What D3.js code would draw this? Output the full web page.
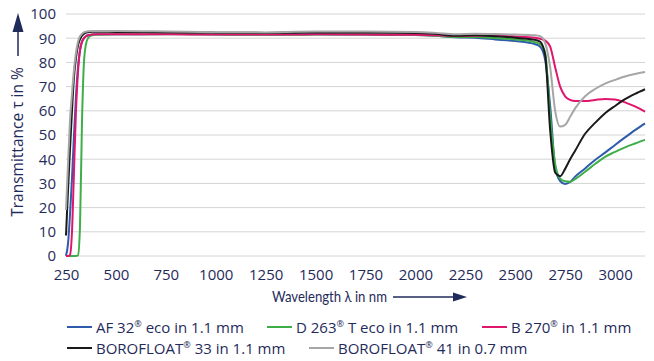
<!DOCTYPE html>
<html>
<head>
<meta charset="utf-8">
<script src="https://cdn.jsdelivr.net/npm/d3@7"></script>
<style>
  body { margin: 0; background: #fff; }
  svg { display: block; font-family: "Open Sans", sans-serif; }
</style>
</head>
<body>
<div id="chart"></div>
<script>
// wavelength grid in nm, shared by all curves
var wavelengths = [250, 260, 270, 280, 290, 300, 310, 320, 330, 340, 350, 360, 380, 400,
  500, 750, 1000, 1250, 1400, 1500, 1750, 2000, 2100, 2200, 2300, 2400, 2500, 2600,
  2625, 2650, 2675, 2700, 2725, 2750, 2775, 2800, 2850, 2900, 2950, 3000, 3050, 3100, 3150];

// transmittance in %
var af32 = [0, 5, 17, 32, 50, 66, 78, 85, 88.5, 90, 90.8, 91.2, 91.5, 91.6,
  91.6, 91.7, 91.6, 91.5, 91.6, 91.6, 91.5, 91.3, 91.0, 90.4, 90.2, 89.5, 88.8, 87.5,
  86.5, 81, 62, 37, 31, 29.8, 30.6, 32.8, 36.2, 39.7, 42.7, 45.9, 49, 52, 54.8];
var d263 = [0, 0, 0, 0, 0, 0, 0.3, 12, 55, 80, 87.5, 90, 91.2, 91.4,
  91.6, 91.6, 91.5, 91.4, 91.4, 91.5, 91.5, 91.3, 91.0, 90.5, 90.5, 90.1, 89.5, 88.3,
  87.5, 84, 58, 38, 32, 30.9, 30.7, 31.8, 34.8, 38, 41, 43, 44.9, 46.5, 48];
var b270 = [0, 0, 0.5, 10, 35, 60, 76, 85, 88.5, 90, 90.8, 91.2, 91.5, 91.6,
  91.6, 91.6, 91.5, 91.5, 91.5, 91.6, 91.5, 91.4, 91.2, 90.9, 91.0, 91.0, 90.7, 90.2,
  89.8, 89, 86.5, 78, 70, 66, 64.5, 64, 64, 64.5, 64.9, 64.7, 63.5, 61.8, 59.6];
var bf33 = [8.5, 27, 44, 60, 74, 82, 87, 89.5, 91, 91.8, 92.3, 92.5, 92.7, 92.7,
  92.6, 92.5, 92.3, 92.2, 92.3, 92.4, 92.4, 92.2, 91.8, 91.0, 91.2, 90.8, 90.2, 89.3,
  88.5, 83, 52, 34.5, 33, 36, 40, 43.5, 50.5, 55, 59, 62, 64.8, 67, 68.9];
var bf41 = [19, 38, 56, 67, 77, 84, 88.5, 90.8, 91.8, 92.4, 92.7, 92.9, 93, 93,
  93, 92.8, 92.5, 92.4, 92.7, 92.8, 92.8, 92.6, 92.2, 91.6, 91.8, 91.7, 91.5, 91.2,
  90.8, 88, 78, 60, 53.5, 54.2, 57.5, 61, 66, 69, 71.2, 72.8, 74.2, 75.2, 76];

var xTicks = [250, 500, 750, 1000, 1250, 1500, 1750, 2000, 2250, 2500, 2750, 3000];
var yTicks = [0, 10, 20, 30, 40, 50, 60, 70, 80, 90, 100];

var seriesColors = ["#2f5bab", "#3fae49", "#e0156d", "#1a1a1a", "#a6a6a6"];

var textColor = "#1f2b5b";

document.addEventListener('DOMContentLoaded', function () {
    var width = 654, height = 361;

    var svg = d3.select("#chart").append("svg")
        .attr("width", width)
        .attr("height", height);

    var x = d3.scaleLinear().domain([250, 3150]).range([66, 645]);
    var y = d3.scaleLinear().domain([0, 100]).range([256, 14]);

    // grid lines
    svg.append("g")
        .selectAll("line")
        .data(yTicks)
        .enter()
        .append("line")
            .attr("x1", x(250))
            .attr("x2", x(3150))
            .attr("y1", function(d) { return y(d); })
            .attr("y2", function(d) { return y(d); })
            .attr("stroke", "#d4d4d4")
            .attr("stroke-width", 1);

    // y axis labels
    var yAxis = svg.append("g")
        .attr("transform", "translate(66,0)")
        .call(d3.axisLeft(y).tickValues(yTicks).tickSize(0).tickPadding(10));
    yAxis.select(".domain").remove();
    yAxis.selectAll("text")
        .style("font-family", "Open Sans")
        .style("font-size", "15px")
        .attr("fill", textColor);

    // x axis labels
    var xAxis = svg.append("g")
        .attr("transform", "translate(0,256)")
        .call(d3.axisBottom(x).tickValues(xTicks).tickFormat(d3.format("d")).tickSize(0).tickPadding(13));
    xAxis.select(".domain").remove();
    xAxis.selectAll("text")
        .style("font-family", "Open Sans")
        .style("font-size", "15px")
        .attr("fill", textColor);

    // curves
    var allSeries = [af32, d263, b270, bf33, bf41];
    var line = d3.line()
        .x(function(d, i) { return x(wavelengths[i]); })
        .y(function(d) { return y(d); })
        .curve(d3.curveMonotoneX);

    svg.append("g")
        .selectAll("path")
        .data(allSeries)
        .enter()
        .append("path")
            .attr("d", line)
            .attr("fill", "none")
            .attr("stroke", function(d, i) { return seriesColors[i]; })
            .attr("stroke-width", 2)
            .attr("stroke-linejoin", "round");

    // x title with arrow
    svg.append("text")
        .attr("x", 272)
        .attr("y", 302)
        .attr("fill", textColor)
        .style("font-family", "Lato, 'Open Sans', sans-serif")
        .style("font-size", "15px")
        .attr("textLength", 115)
        .attr("lengthAdjust", "spacingAndGlyphs")
        .text("Wavelength λ in nm");
    svg.append("line")
        .attr("x1", 393).attr("x2", 455)
        .attr("y1", 297).attr("y2", 297)
        .attr("stroke", textColor).attr("stroke-width", 1.5);
    svg.append("path")
        .attr("d", "M453,292.5 L467,297 L453,301.5 Z")
        .attr("fill", textColor);

    // y title with arrow
    svg.append("text")
        .attr("transform", "translate(23,142) rotate(-90)")
        .attr("text-anchor", "middle")
        .attr("fill", textColor)
        .style("font-size", "15.5px")
        .text("Transmittance τ in %");
    svg.append("line")
        .attr("x1", 18).attr("x2", 18)
        .attr("y1", 56).attr("y2", 28)
        .attr("stroke", textColor).attr("stroke-width", 1.5);
    svg.append("path")
        .attr("d", "M12.5,32 L18,13 L23.5,32 Z")
        .attr("fill", textColor);

    // legend
    var legendItems = [
        {x: 67, y: 327, c: 0, pre: "AF 32", post: " eco in 1.1 mm"},
        {x: 267, y: 327, c: 1, pre: "D 263", post: " T eco in 1.1 mm"},
        {x: 482, y: 327, c: 2, pre: "B 270", post: " in 1.1 mm"},
        {x: 67, y: 348, c: 3, pre: "BOROFLOAT", post: " 33 in 1.1 mm"},
        {x: 309, y: 348, c: 4, pre: "BOROFLOAT", post: " 41 in 0.7 mm"}
    ];

    var legend = svg.append("g");
    legendItems.forEach(function(item) {
        legend.append("line")
            .attr("x1", item.x).attr("x2", item.x + 25)
            .attr("y1", item.y).attr("y2", item.y)
            .attr("stroke", seriesColors[item.c])
            .attr("stroke-width", 2);
        var t = legend.append("text")
            .attr("x", item.x + 29)
            .attr("y", item.y + 5.5)
            .attr("fill", textColor)
            .style("font-size", "15px");
        t.append("tspan").text(item.pre);
        t.append("tspan").attr("dy", -5.5).style("font-size", "9px").text("®");
        t.append("tspan").attr("dy", 5.5).text(item.post);
    });
});
</script>
</body>
</html>
